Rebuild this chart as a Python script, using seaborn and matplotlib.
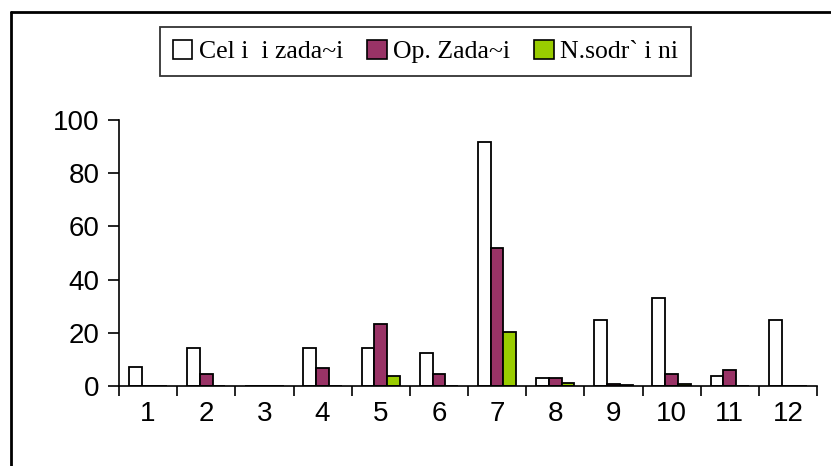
import matplotlib
matplotlib.use("Agg")
import matplotlib.pyplot as plt
from matplotlib.patches import Patch
from matplotlib.lines import Line2D
import seaborn as sns
import pandas as pd
import numpy as np

categories = ["1", "2", "3", "4", "5", "6", "7", "8", "9", "10", "11", "12"]
series_names = ["Cel i  i zada~i", "Op. Zada~i", "N.sodr` i ni"]
celi = [7.3, 14.2, 0, 14.2, 14.2, 12.5, 91.7, 3.0, 24.7, 33.0, 3.6, 24.7]
op_zadaci = [0, 4.4, 0, 6.6, 23.2, 4.4, 51.8, 3.0, 0.7, 4.4, 6.0, 0]
n_sodr = [0, 0, 0, 0, 3.6, 0, 20.2, 1.2, 0.3, 0.8, 0, 0]
colors = ["#FFFFFF", "#993366", "#99CC00"]
yticks = [0, 20, 40, 60, 80, 100]

rows = []
for name, vals in zip(series_names, [celi, op_zadaci, n_sodr]):
    for c, v in zip(categories, vals):
        rows.append({"cat": c, "series": name, "value": v})
df = pd.DataFrame(rows)

sns.set_theme(style="white")
plt.rcParams["font.family"] = ["Liberation Sans", "DejaVu Sans"]
plt.rcParams["text.color"] = "black"
plt.rcParams["xtick.color"] = "black"
plt.rcParams["ytick.color"] = "black"
plt.rcParams["xtick.labelcolor"] = "black"
plt.rcParams["ytick.labelcolor"] = "black"

fig = plt.figure(figsize=(8.31, 4.66), dpi=100)
ax = fig.add_axes([119 / 831, 80 / 466, (817 - 119) / 831, (386 - 120) / 466])

sns.barplot(data=df, x="cat", y="value", hue="series", order=categories,
            hue_order=series_names, palette=dict(zip(series_names, colors)),
            saturation=1, width=0.66, edgecolor="black", linewidth=1.3,
            errorbar=None, ax=ax, legend=False)

ax.set_xlim(-0.5, len(categories) - 0.5)
ax.set_ylim(0, 100)
ax.set_yticks(yticks)
ax.set_yticklabels([str(t) for t in yticks], fontsize=20, color="black")
ax.set_xticks(range(len(categories)))
ax.set_xticklabels(categories, fontsize=20, color="black")
ax.set_xticks(np.arange(-0.5, len(categories), 1.0), minor=True)
ax.tick_params(axis="x", which="major", length=0, pad=11, colors="black")
ax.tick_params(axis="x", which="minor", length=7.5, width=1.2, direction="out", color="black", bottom=True)
ax.tick_params(axis="y", which="major", length=8, width=1.2, direction="out", color="black", left=True, pad=6)
ax.set_xlabel("")
ax.set_ylabel("")
for s in ["top", "right"]:
    ax.spines[s].set_visible(False)
for s in ["left", "bottom"]:
    ax.spines[s].set_color("black")
    ax.spines[s].set_linewidth(1.2)

handles = [Patch(facecolor=c, edgecolor="black", linewidth=1.2) for c in colors]
leg = fig.legend(handles, series_names, loc="upper center", ncol=3,
                 bbox_to_anchor=(425.5 / 831, 1 - 27 / 466),
                 frameon=True, fancybox=False, edgecolor="black",
                 prop={"family": "Liberation Serif", "size": 18.5},
                 handlelength=0.75, handleheight=0.75, handletextpad=0.25,
                 columnspacing=0.95, borderpad=0.5, borderaxespad=0)
leg.get_frame().set_linewidth(1.3)
for t in leg.get_texts():
    t.set_color("black")

fig.add_artist(Line2D([11 / 831, 11 / 831], [0, 1 - 12 / 466], transform=fig.transFigure,
                      color="black", linewidth=2))
fig.add_artist(Line2D([11 / 831, 1], [1 - 12 / 466, 1 - 12 / 466], transform=fig.transFigure,
                      color="black", linewidth=2))

fig.savefig("out.png", dpi=100, facecolor="white")
